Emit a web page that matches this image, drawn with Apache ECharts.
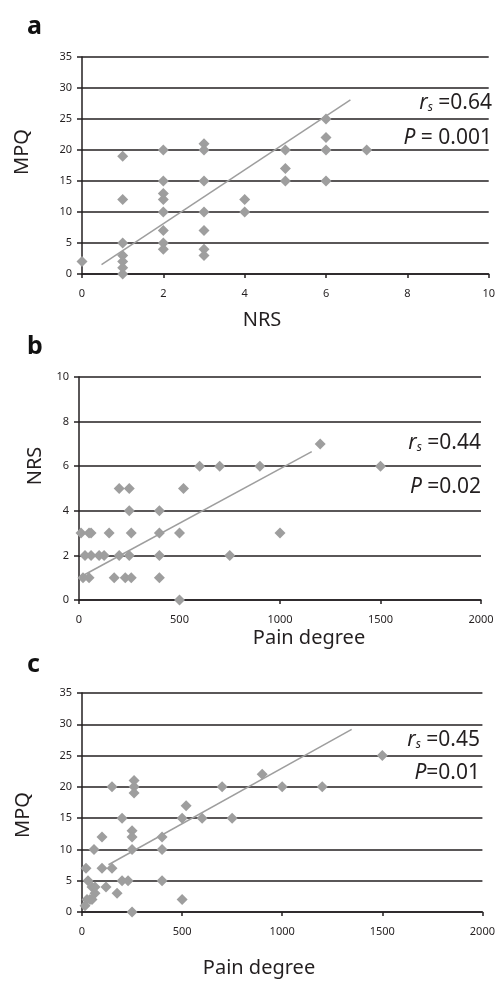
<!DOCTYPE html>
<html>
<head>
<meta charset="utf-8">
<script src="https://cdn.jsdelivr.net/npm/echarts@6/dist/echarts.min.js"></script>
<style>
html,body{margin:0;padding:0;background:#fff;}
#chart{width:498px;height:981px;}
</style>
</head>
<body>
<div id="chart"></div>
<script>
// Panel a: NRS vs MPQ
const nrsA = [0, 1,1,1,1,1,1,1, 2,2,2,2,2,2,2,2, 3,3,3,3,3,3,3, 4,4, 5,5,5, 6,6,6,6, 7];
const mpqA = [2, 19,12,5,3,2,1,0, 20,15,13,12,10,7,5,4, 21,20,15,10,7,4,3, 12,10, 20,17,15, 25,22,20,15, 20];
const trendAx = [0.48, 6.6];
const trendAy = [1.5, 28.1];

// Panel b: Pain degree vs NRS
const painB = [10,50,60,150,260,400,500,1000, 30,60,100,125,200,250,400,750, 20,50,175,230,260,400, 500, 250,400, 200,250,520, 600,700,900,1500, 1200];
const nrsB  = [3,3,3,3,3,3,3,3, 2,2,2,2,2,2,2,2, 1,1,1,1,1,1, 0, 4,4, 5,5,5, 6,6,6,6, 7];
const trendBx = [20, 1158];
const trendBy = [1.1, 6.65];

// Panel c: Pain degree vs MPQ
const painC = [150,260,260,260,520,700,900,1000,1200,1500, 200,500,600,750, 100,250,250,400, 60,250,400, 20,100,150, 30,200,230,400, 50,65,120, 175,65, 40,25,50,500, 15,250];
const mpqC  = [20,21,20,19,17,20,22,20,20,25, 15,15,15,15, 12,13,12,12, 10,10,10, 7,7,7, 5,5,5,5, 4,4,4, 3,3, 2,2,2,2, 1,0];
const trendCx = [132, 1347];
const trendCy = [7.55, 29.2];

const xTicksA = [0, 10, 2];
const yTicksA = [0, 35, 5];
const xTicksB = [0, 2000, 500];
const yTicksB = [0, 10, 2];
const xTicksC = [0, 2000, 500];
const yTicksC = [0, 35, 5];

const panelLabels = ['a', 'b', 'c'];
const xTitles = ['NRS', 'Pain degree', 'Pain degree'];
const yTitles = ['MPQ', 'NRS', 'MPQ'];
const rsTexts = ['0.64', '0.44', '0.45'];
const pTexts = [' = 0.001', ' =0.02', '=0.01'];

const zip = (a, b) => a.map((v, i) => [v, b[i]]);
const INK = '#231f20';
const GREY = '#9e9e9e';
const FONT = '"Noto Sans", "Open Sans", sans-serif';

const grids = [
  {left: 82, right: 6, top: 57, height: 217},
  {left: 79, right: 17, top: 377, height: 223},
  {left: 82, right: 14, top: 693, height: 219}
];

function xAxis(i, t) {
  return {
    type: 'value', gridIndex: i, min: t[0], max: t[1], interval: t[2],
    axisLine: {show: true, onZero: false, lineStyle: {color: INK, width: 1.5}},
    axisTick: {show: true, length: 4, lineStyle: {color: INK, width: 1.5}},
    axisLabel: {color: INK, fontSize: 11, fontFamily: FONT, margin: 14, formatter: v => String(v)},
    splitLine: {show: false}
  };
}
function yAxis(i, t) {
  return {
    type: 'value', gridIndex: i, min: t[0], max: t[1], interval: t[2],
    axisLine: {show: true, lineStyle: {color: INK, width: 1.5}},
    axisTick: {show: true, length: 5, lineStyle: {color: INK, width: 1.5}},
    axisLabel: {color: INK, fontSize: 11, fontFamily: FONT, margin: 10, formatter: v => String(v)},
    splitLine: {show: true, lineStyle: {color: INK, width: 1.5}}
  };
}
function scatter(i, data) {
  return {
    type: 'scatter', xAxisIndex: i, yAxisIndex: i, data: data,
    symbol: 'diamond', symbolSize: [11, 11],
    itemStyle: {color: GREY, opacity: 1}, z: 3
  };
}
function trend(i, xs, ys) {
  return {
    type: 'line', xAxisIndex: i, yAxisIndex: i, data: zip(xs, ys),
    symbol: 'none', lineStyle: {color: GREY, width: 1.5}, z: 2
  };
}

const statRich = {
  i: {fontStyle: 'italic', fontSize: 21, fontFamily: FONT, fill: INK},
  sub: {fontStyle: 'italic', fontSize: 12, fontFamily: FONT, fill: INK, padding: [10, 0, 0, 0]},
  n: {fontSize: 21, fontFamily: FONT, fill: INK}
};

const statPos = [
  {rsY: 103, pY: 138, right: 492},
  {rsY: 443, pY: 487, right: 481},
  {rsY: 740, pY: 773, right: 480}
];
const letterY = [27, 347, 665];
const xTitleY = [320, 638, 968];
const xTitleX = [262, 309, 259];
const yTitleY = [152, 466, 815];
const yTitleX = [22, 35, 23];

const graphics = [];
for (let k = 0; k < 3; k++) {
  graphics.push({
    type: 'text', x: 27, y: letterY[k],
    style: {text: panelLabels[k], font: 'bold 25px ' + FONT, fill: '#111', textVerticalAlign: 'middle'}
  });
  graphics.push({
    type: 'text', x: xTitleX[k], y: xTitleY[k],
    style: {text: xTitles[k], font: '20px ' + FONT, fill: INK, textAlign: 'center', textVerticalAlign: 'middle'}
  });
  graphics.push({
    type: 'text', x: yTitleX[k], y: yTitleY[k], rotation: Math.PI / 2,
    style: {text: yTitles[k], font: '20px ' + FONT, fill: INK, textAlign: 'center', textVerticalAlign: 'middle'}
  });
  graphics.push({
    type: 'text', x: statPos[k].right, y: statPos[k].rsY,
    style: {text: '{i|r}{sub|s}{n| =' + rsTexts[k] + '}', rich: statRich, textAlign: 'right', textVerticalAlign: 'middle'}
  });
  graphics.push({
    type: 'text', x: statPos[k].right, y: statPos[k].pY,
    style: {text: '{i|P}{n|' + pTexts[k] + '}', rich: statRich, textAlign: 'right', textVerticalAlign: 'middle'}
  });
}

const chart = echarts.init(document.getElementById('chart'), null, {renderer: 'canvas'});
chart.setOption({
  animation: false,
  backgroundColor: '#fff',
  grid: grids,
  xAxis: [xAxis(0, xTicksA), xAxis(1, xTicksB), xAxis(2, xTicksC)],
  yAxis: [yAxis(0, yTicksA), yAxis(1, yTicksB), yAxis(2, yTicksC)],
  series: [
    trend(0, trendAx, trendAy), scatter(0, zip(nrsA, mpqA)),
    trend(1, trendBx, trendBy), scatter(1, zip(painB, nrsB)),
    trend(2, trendCx, trendCy), scatter(2, zip(painC, mpqC))
  ],
  graphic: graphics
});
</script>
</body>
</html>
